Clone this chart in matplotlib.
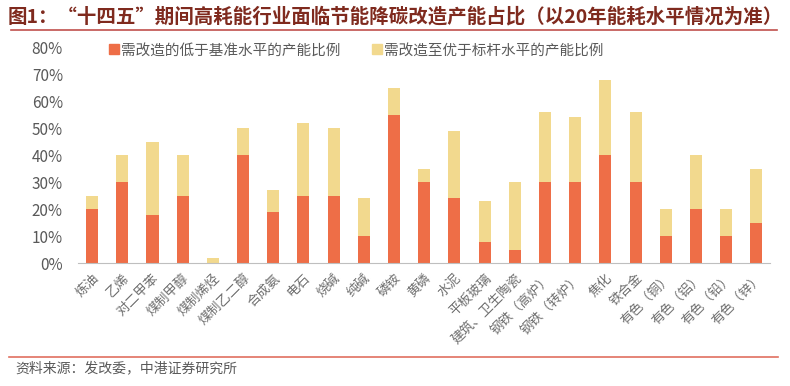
import numpy as np
import matplotlib
matplotlib.use("Agg")
import matplotlib.pyplot as plt
from matplotlib.lines import Line2D

plt.rcParams['font.family'] = ['Noto Sans CJK SC', 'DejaVu Sans']

categories = ['炼油', '乙烯', '对二甲苯', '煤制甲醇', '煤制烯烃', '煤制乙二醇', '合成氨',
              '电石', '烧碱', '纯碱', '磷铵', '黄磷', '水泥', '平板玻璃', '建筑、卫生陶瓷',
              '钢铁（高炉）', '钢铁（转炉）', '焦化', '铁合金', '有色（铜）', '有色（铝）',
              '有色（铅）', '有色（锌）']
below_base = [20, 30, 18, 25, 0, 40, 19, 25, 25, 10, 55, 30, 24, 8, 5, 30, 30, 40, 30, 10, 20, 10, 15]
to_benchmark = [5, 10, 27, 15, 2, 10, 8, 27, 25, 14, 10, 5, 25, 15, 25, 26, 24, 28, 26, 10, 20, 10, 20]
series_names = ['需改造的低于基准水平的产能比例', '需改造至优于标杆水平的产能比例']
yticks = [0, 10, 20, 30, 40, 50, 60, 70, 80]

c_red = '#EE6E47'
c_yel = '#F2D98E'

fig = plt.figure(figsize=(7.9, 3.86), dpi=100)
ax = fig.add_axes([0.099, 0.318, 0.876, 0.56])

x = np.arange(len(categories))
ax.bar(x, below_base, width=0.4, color=c_red, label=series_names[0])
ax.bar(x, to_benchmark, width=0.4, bottom=below_base, color=c_yel, label=series_names[1])

ax.set_ylim(0, 80)
ax.set_xlim(-0.46, len(categories) - 0.54)
ax.set_yticks(yticks)
ax.set_yticklabels([f'{v}%' for v in yticks], fontsize=11, color='#595959')
ax.set_xticks(x)
ax.set_xticklabels(categories, rotation=45, ha='right', rotation_mode='anchor',
                   fontsize=9.5, color='#6F6F6F')
ax.tick_params(axis='y', length=0, pad=11)
ax.tick_params(axis='x', length=0, pad=6)
for s in ['top', 'right', 'left']:
    ax.spines[s].set_visible(False)
ax.spines['bottom'].set_color('#BFBFBF')

handles = [Line2D([], [], marker='s', ls='', color=c_red, markersize=7),
           Line2D([], [], marker='s', ls='', color=c_yel, markersize=7)]
ax.legend(handles, series_names, loc='center left', bbox_to_anchor=(0.045, 0.985), ncol=2,
          frameon=False, fontsize=10.5, handlelength=0.6, handletextpad=0.2,
          columnspacing=2.2, borderpad=0, borderaxespad=0, labelcolor='#595959')

fig.text(0.01, 0.956, '图1：“十四五”期间高耗能行业面临节能降碳改造产能占比（以20年能耗水平情况为准）',
         fontsize=14, fontweight='bold', color='#7F2A1E', va='center')
fig.add_artist(Line2D([0.014, 0.984], [0.922, 0.922], color='#C0504D', lw=1.2))
fig.add_artist(Line2D([0.012, 0.985], [0.075, 0.075], color='#E07060', lw=1.2))
fig.text(0.02, 0.045, '资料来源：发改委，中港证券研究所', fontsize=10, color='#595959',
         style='italic', va='center')

fig.savefig('out.png', dpi=100)
